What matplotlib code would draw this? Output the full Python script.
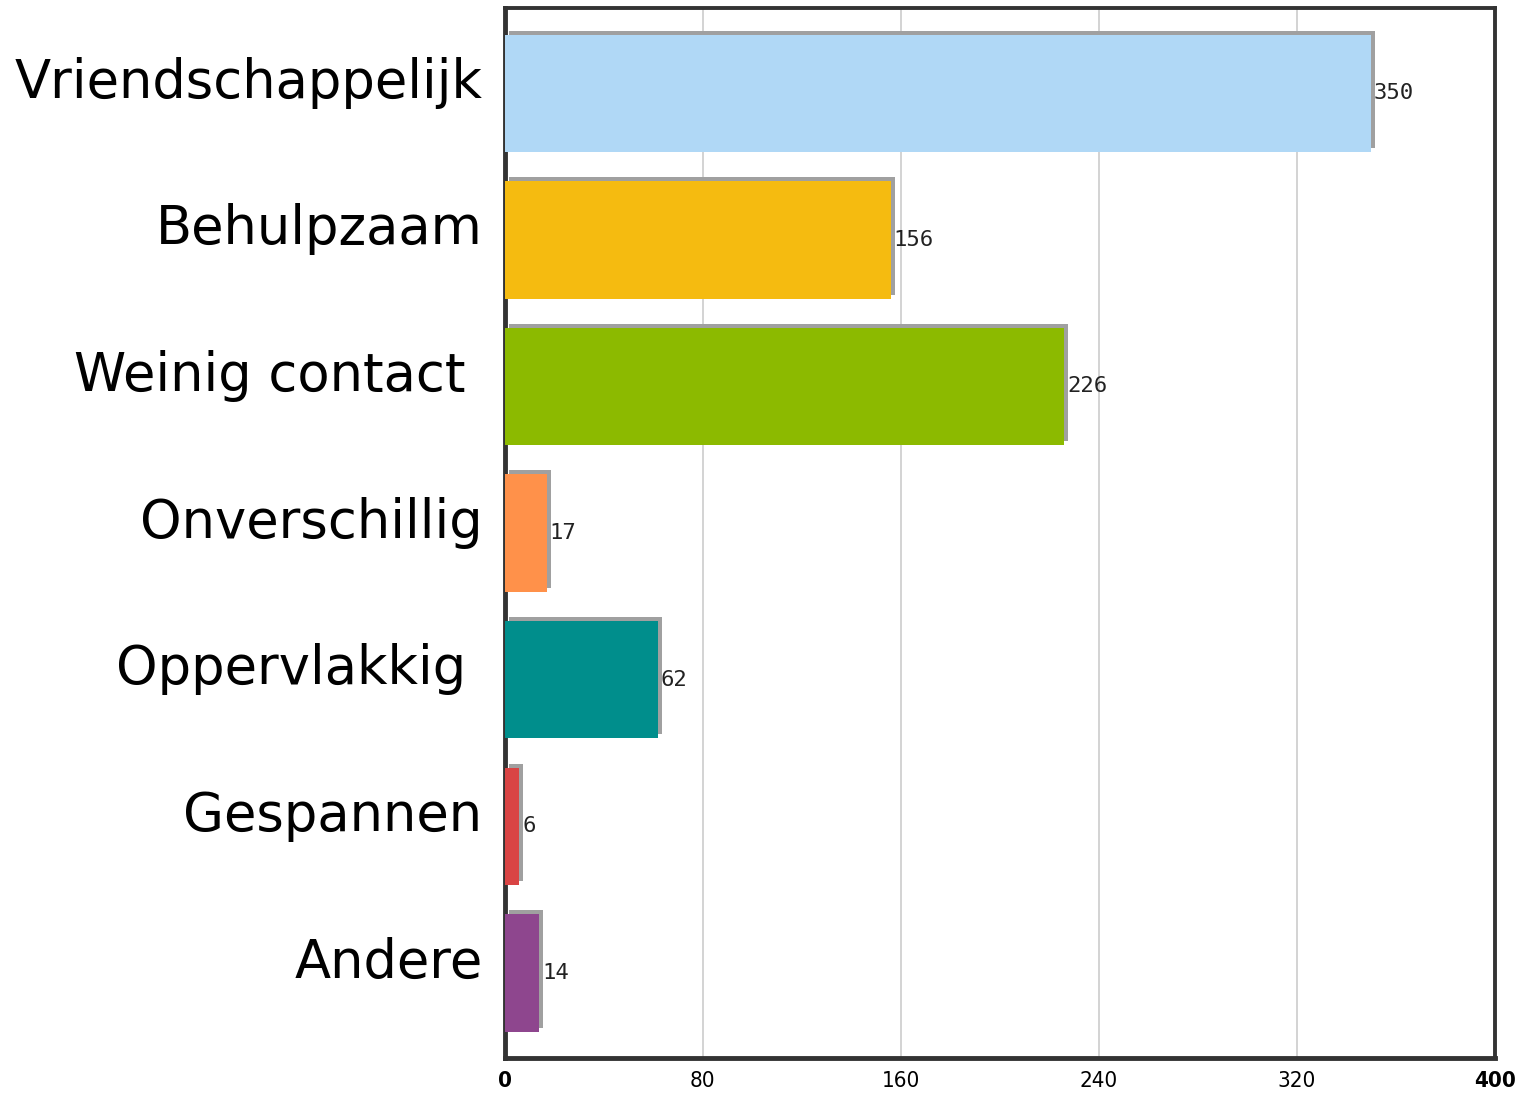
import matplotlib
matplotlib.use('Agg')
import matplotlib.pyplot as plt
import matplotlib.transforms as mtransforms

# data
categorieen = ['Vriendschappelijk', 'Behulpzaam', 'Weinig contact ', 'Onverschillig',
               'Oppervlakkig ', 'Gespannen', 'Andere']
aantallen = [350, 156, 226, 17, 62, 6, 14]
kleuren = ['#b0d8f6', '#f5bb10', '#8cba00', '#ff914a', '#008e8c', '#d94444', '#8e468e']
xticks = [0, 80, 160, 240, 320, 400]

fig = plt.figure(figsize=(15.2, 10.93), dpi=100)
ax = fig.add_axes([0.332, 0.032, 0.6516, 0.9605])

y = list(range(len(categorieen)))

# schaduw achter de balken (offset rechtsboven)
schaduw = mtransforms.offset_copy(ax.transData, fig=fig, x=4, y=4, units='dots')
ax.barh(y, aantallen, height=0.8, color='#a0a0a0', transform=schaduw, zorder=2)
ax.barh(y, aantallen, height=0.8, color=kleuren, zorder=3)

for i, v in zip(y, aantallen):
    ax.annotate(str(v), (v, i), xytext=(2, 0), textcoords='offset points',
                va='center', ha='left', fontsize=16, family='DejaVu Sans Mono',
                color='#222222', zorder=4)

ax.set_xlim(0, 400)
ax.set_ylim(6.58, -0.58)
ax.set_xticks(xticks)
ax.set_xticklabels([str(t) for t in xticks], fontsize=16, fontstretch='condensed')
for lbl in ax.get_xticklabels()[::5]:
    lbl.set_fontweight('bold')
ax.tick_params(axis='x', length=0, pad=9)

ax.set_yticks(y)
ax.set_yticklabels(categorieen, fontsize=38)
ax.tick_params(axis='y', length=0, pad=16)
verschuif = mtransforms.ScaledTranslation(0, 16 / 100, fig.dpi_scale_trans)
for lbl in ax.get_yticklabels():
    lbl.set_transform(lbl.get_transform() + verschuif)

ax.grid(axis='x', color='#cccccc', linewidth=1.2, zorder=0)
ax.set_axisbelow(True)
for kant in ['left', 'bottom']:
    ax.spines[kant].set_linewidth(3.5)
    ax.spines[kant].set_color('#333333')
for kant in ['top', 'right']:
    ax.spines[kant].set_linewidth(2.8)
    ax.spines[kant].set_color('#333333')

fig.savefig('out.png', dpi=100)
